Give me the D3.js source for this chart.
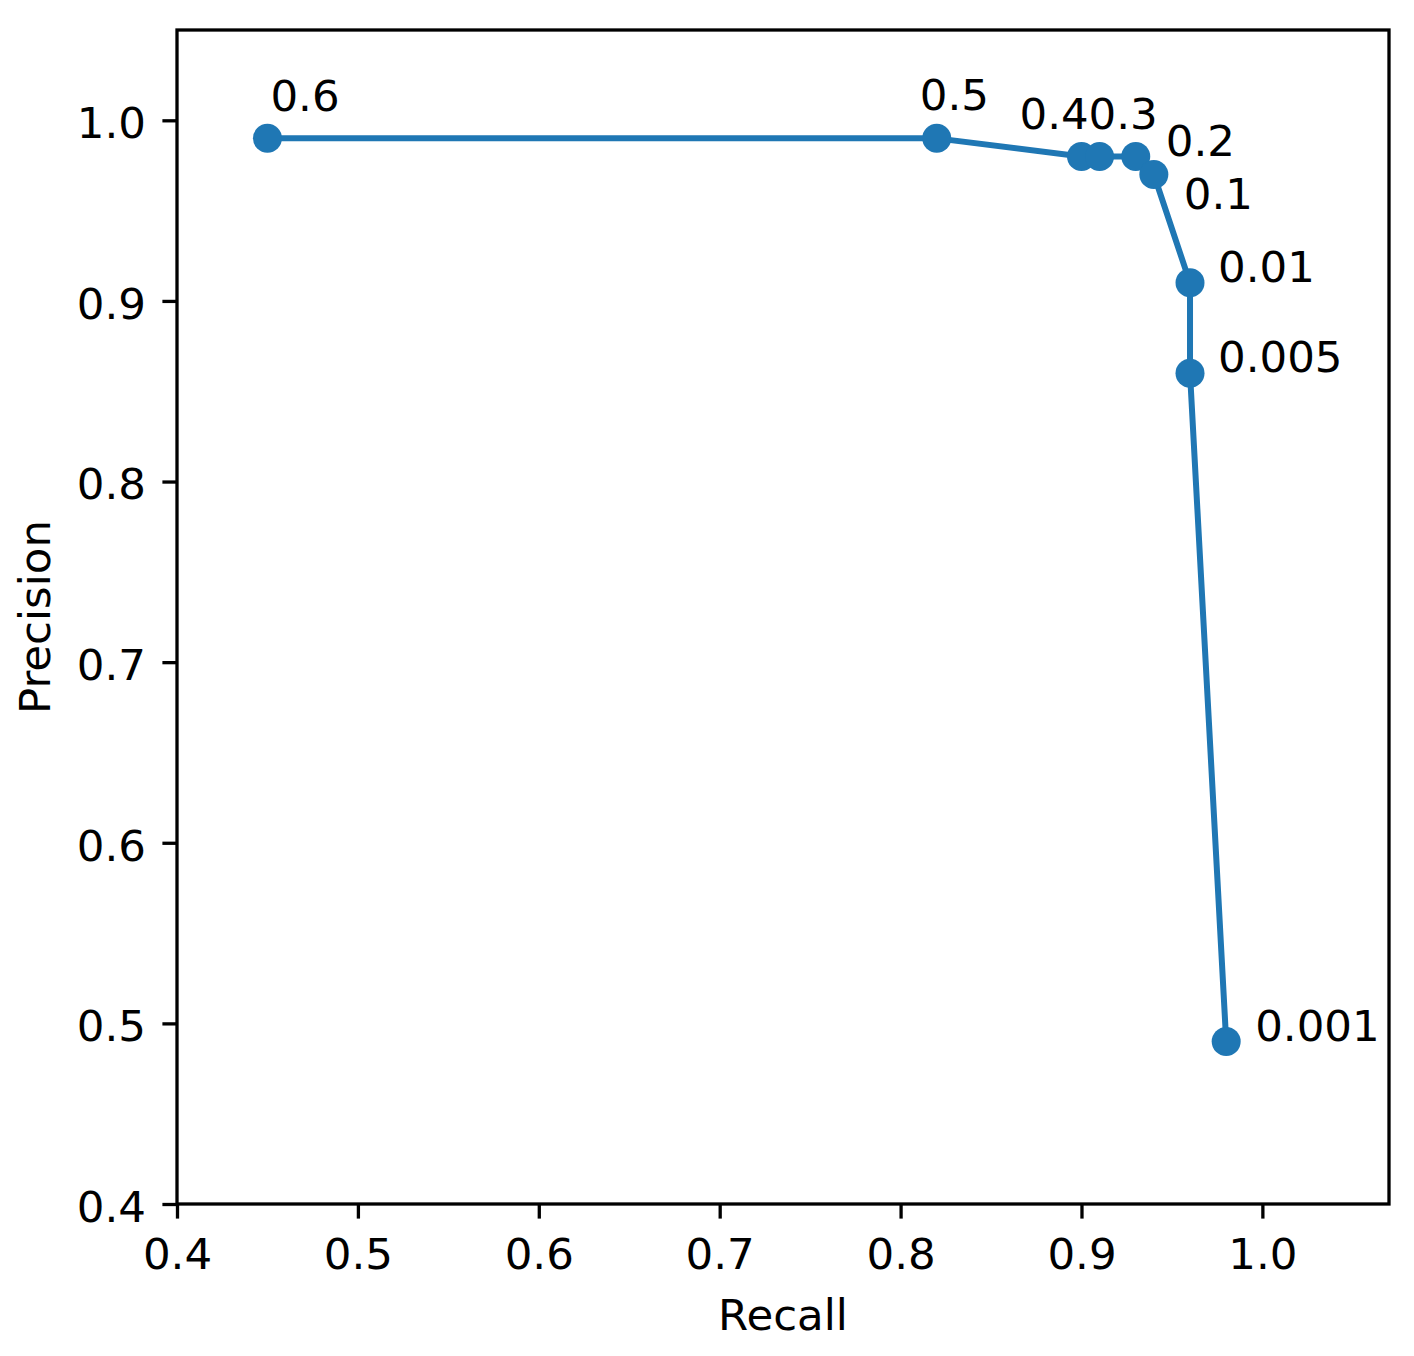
<!DOCTYPE html>
<html>
<head>
<meta charset="utf-8">
<script src="https://cdn.jsdelivr.net/npm/d3@7"></script>
<style>
	body { margin: 0; background: #fff; }
	svg { display: block; font-family: "DejaVu Sans", sans-serif; }
</style>
</head>
<body>
<script>
// data
const recall = [0.45, 0.82, 0.90, 0.91, 0.93, 0.94, 0.96, 0.96, 0.98];
const precision = [0.99, 0.99, 0.98, 0.98, 0.98, 0.97, 0.91, 0.86, 0.49];
const thresholds = ["0.6", "0.5", "0.4", "0.3", "0.2", "0.1", "0.01", "0.005", "0.001"];
const xTicks = [0.4, 0.5, 0.6, 0.7, 0.8, 0.9, 1.0];
const yTicks = [0.4, 0.5, 0.6, 0.7, 0.8, 0.9, 1.0];

// pixel offsets of each annotation from its point
const labelOffsets = [[3, -27], [-17, -28], [-62, -27], [-11, -27], [30, 0], [30, 35], [28, -1], [28, -1], [29, 0]];

const width = 1414, height = 1356;
const margin = { top: 30, right: 25, bottom: 152, left: 177 };
const fontSize = 43.5;
const blue = "#1f77b4";

const svg = d3.select("body").append("svg")
	.attr("width", width)
	.attr("height", height);

const x = d3.scaleLinear().domain([0.4, 1.07]).range([margin.left, width - margin.right]);
const y = d3.scaleLinear().domain([0.4, 1.05]).range([height - margin.bottom, margin.top]);

// axes
const xAxis = svg.append("g")
	.attr("transform", `translate(0,${height - margin.bottom})`)
	.call(d3.axisBottom(x).tickValues(xTicks).tickFormat(d3.format(".1f")).tickSize(14.6).tickPadding(19.5));

const yAxis = svg.append("g")
	.attr("transform", `translate(${margin.left},0)`)
	.call(d3.axisLeft(y).tickValues(yTicks).tickFormat(d3.format(".1f")).tickSize(14.6).tickPadding(16.4));

[xAxis, yAxis].forEach(g => {
	g.select(".domain").remove();
	g.selectAll(".tick line").attr("stroke", "#000").attr("stroke-width", 3.3);
	g.selectAll(".tick text")
		.attr("fill", "#000")
		.style("font-size", fontSize + "px")
		.style("font-family", "'DejaVu Sans', sans-serif");
});
yAxis.selectAll(".tick text").attr("dy", "0.4em");

// frame
svg.append("rect")
	.attr("x", margin.left)
	.attr("y", margin.top)
	.attr("width", width - margin.left - margin.right)
	.attr("height", height - margin.top - margin.bottom)
	.attr("fill", "none")
	.attr("stroke", "#000")
	.attr("stroke-width", 3.3);

// axis labels
svg.append("text")
	.attr("x", (margin.left + width - margin.right) / 2)
	.attr("y", 1330)
	.attr("text-anchor", "middle")
	.style("font-size", fontSize + "px")
	.text("Recall");

svg.append("text")
	.attr("transform", `translate(50,${(margin.top + height - margin.bottom) / 2}) rotate(-90)`)
	.attr("text-anchor", "middle")
	.style("font-size", fontSize + "px")
	.text("Precision");

// curve
const points = recall.map((r, i) => ({ r: r, p: precision[i], label: thresholds[i], off: labelOffsets[i] }));

const line = d3.line().x(d => x(d.r)).y(d => y(d.p));

svg.append("path")
	.datum(points)
	.attr("d", line)
	.attr("fill", "none")
	.attr("stroke", blue)
	.attr("stroke-width", 6)
	.attr("stroke-linejoin", "round");

svg.selectAll("circle.pt")
	.data(points)
	.join("circle")
	.attr("class", "pt")
	.attr("cx", d => x(d.r))
	.attr("cy", d => y(d.p))
	.attr("r", 14.5)
	.attr("fill", blue);

svg.selectAll("text.ann")
	.data(points)
	.join("text")
	.attr("class", "ann")
	.attr("x", d => x(d.r) + d.off[0])
	.attr("y", d => y(d.p) + d.off[1])
	.style("font-size", fontSize + "px")
	.text(d => d.label);
</script>
</body>
</html>
